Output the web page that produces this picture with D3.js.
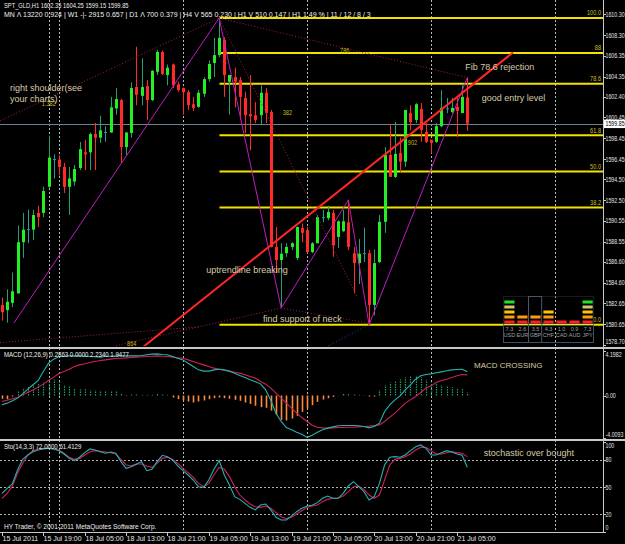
<!DOCTYPE html>
<html>
<head>
<meta charset="utf-8">
<script src="https://cdn.jsdelivr.net/npm/d3@7/dist/d3.min.js"></script>
<style>
  html, body { margin: 0; padding: 0; background: #000; overflow: hidden; }
  svg { display: block; }
  text { font-family: "Liberation Sans", Arial, sans-serif; }
</style>
</head>
<body>
<svg id="chart" width="625" height="544"></svg>
<script>
// ---- SPT_GLD H1 candles ----
var opens = [
  1582.5,1582.0,1582.7,1583.6,1588.5,1589.75,1589.7,1591.3,1591.3,1593.8,
  1596.45,1596.4,1595.7,1593.8,1594.3,1595.6,1597.1,1597.1,1598.85,1598.5,
  1599.05,1599.0,1601.3,1602.1,1597.6,1598.95,1603.35,1602.5,1603.45,1602.1,
  1604.8,1606.7,1604.5,1605.5,1603.6,1603.25,1602.85,1601.7,1601.45,1602.7,
  1604.1,1605.65,1606.4,1607.85,1603.85,1604.3,1604.0,1602.3,1600.75,1600.65,
  1600.65,1602.8,1600.95,1588.05,1586.8,1587.45,1588.05,1587.0,1589.85,1589.65,
  1587.55,1588.4,1590.9,1590.8,1591.3,1589.0,1589.55,1590.4,1587.45,1586.5,
  1587.45,1587.45,1582.5,1586.6,1590.45,1596.85,1594.75,1597.05,1596.2,1600.85,
  1600.2,1601.25,1599.05,1598.3,1598.1,1599.6,1601.3,1600.95,1601.45,1600.85,
  1602.35];
var highs = [
  1583.2,1584.0,1585.6,1590.1,1591.3,1591.6,1591.6,1592.0,1593.8,1598.7,
  1596.9,1596.8,1596.1,1595.7,1595.9,1598.1,1598.3,1599.0,1599.9,1600.6,
  1599.6,1602.4,1603.25,1602.2,1599.0,1603.8,1607.2,1606.1,1604.0,1604.95,
  1606.9,1606.8,1605.5,1605.6,1603.85,1603.3,1603.05,1602.4,1603.05,1604.3,
  1605.9,1608.05,1609.95,1608.1,1604.5,1605.2,1604.3,1602.9,1604.5,1601.9,
  1603.5,1603.25,1601.15,1589.95,1588.4,1588.4,1588.5,1590.0,1590.3,1589.95,
  1588.5,1591.1,1591.6,1592.0,1591.6,1590.6,1591.6,1592.55,1588.05,1588.8,
  1589.9,1587.75,1587.8,1591.1,1597.6,1599.7,1600.0,1598.5,1601.15,1601.6,
  1601.8,1601.8,1599.9,1598.3,1599.9,1603.05,1602.3,1602.3,1602.3,1603.65,
  1604.25];
var lows = [
  1581.0,1580.8,1582.3,1583.6,1587.0,1588.4,1588.7,1589.95,1590.9,1593.7,
  1594.6,1594.9,1593.2,1591.1,1593.9,1595.4,1595.4,1595.4,1595.4,1598.0,
  1598.1,1598.95,1600.7,1596.1,1596.85,1598.5,1601.6,1601.6,1600.2,1602.0,
  1604.5,1604.5,1603.5,1603.25,1602.9,1600.7,1601.15,1601.05,1601.35,1602.4,
  1603.85,1604.3,1606.2,1602.4,1600.7,1601.4,1600.2,1598.95,1597.3,1599.9,
  1599.7,1599.9,1588.0,1585.55,1582.2,1587.1,1587.75,1586.8,1588.5,1587.45,
  1587.45,1588.4,1590.4,1590.6,1587.1,1587.95,1589.5,1587.75,1583.6,1584.5,
  1586.6,1580.6,1581.5,1586.5,1589.4,1594.75,1594.65,1595.2,1595.7,1599.2,
  1599.9,1598.1,1598.0,1597.0,1598.0,1599.5,1600.85,1600.85,1598.55,1600.85,
  1599.15];
var closes = [
  1581.8,1582.8,1583.8,1588.5,1589.7,1589.75,1591.1,1590.9,1593.4,1596.6,
  1596.45,1595.7,1593.8,1594.6,1595.5,1597.4,1596.9,1598.85,1598.5,1599.2,
  1599.05,1601.4,1602.2,1597.6,1599.0,1603.25,1602.6,1603.35,1602.1,1604.9,
  1606.7,1604.6,1605.2,1603.5,1603.05,1602.85,1601.6,1601.35,1602.8,1604.1,
  1605.55,1606.4,1608.05,1604.5,1604.5,1603.85,1602.4,1600.65,1600.55,1600.2,
  1602.8,1600.85,1588.05,1586.8,1587.4,1588.05,1588.4,1589.95,1589.4,1587.55,
  1588.4,1590.9,1590.9,1591.4,1588.2,1590.5,1590.5,1588.05,1586.5,1587.4,
  1587.45,1582.5,1586.5,1590.45,1596.85,1594.75,1596.95,1596.2,1601.15,1600.0,
  1601.7,1599.25,1598.1,1598.0,1599.6,1601.35,1601.3,1601.35,1601.05,1602.4,
  1599.85];

// ---- MACD (12,26,9) ----
var macdHist = [
  -0.3,-0.35,-0.1,0.38,0.69,0.79,1.0,1.1,1.23,1.48,
  1.48,1.42,1.0,0.85,0.69,0.6,0.6,0.53,0.5,0.47,
  0.38,0.38,0.41,0.16,-0.03,0.1,0.1,0.06,0.06,0.06,
  0.22,0.1,0.06,-0.19,-0.35,-0.47,-0.57,-0.66,-0.57,-0.47,
  -0.35,-0.25,-0.19,-0.25,-0.31,-0.41,-0.5,-0.66,-0.79,-0.97,
  -1.1,-1.16,-1.42,-1.82,-2.3,-2.36,-2.17,-1.92,-1.54,-1.23,
  -0.91,-0.6,-0.38,-0.25,-0.13,0.02,0.16,0.13,0.1,0.06,
  0.03,-0.1,-0.1,0.53,1.0,1.23,1.42,1.54,1.73,1.86,
  1.86,1.73,1.48,1.23,1.16,1.0,0.85,0.79,0.72,0.6,
  0.29];
var macdMain = [
  -0.88,-0.72,-0.50,-0.25,0.16,0.60,1.01,1.42,2.26,3.05,
  3.43,3.68,3.71,3.74,3.74,3.74,3.71,3.68,3.65,3.62,
  3.68,3.71,3.74,3.74,3.74,3.74,3.74,3.77,3.84,3.90,
  3.93,3.87,3.84,3.68,3.52,3.36,3.05,2.74,2.42,2.30,
  2.30,2.42,2.48,2.42,2.30,2.11,1.89,1.70,1.48,1.29,
  1.10,0.53,-0.47,-1.67,-2.45,-3.02,-3.24,-3.46,-3.65,-3.95,
  -3.74,-3.46,-3.24,-3.08,-2.96,-2.86,-2.83,-2.83,-2.83,-2.86,
  -2.92,-3.05,-2.92,-2.61,-1.51,-0.88,-0.41,-0.03,0.53,1.01,
  1.54,1.86,1.98,2.04,2.14,2.23,2.33,2.42,2.45,2.48,
  2.23];
var macdSignal = [
  -0.57,-0.44,-0.31,-0.19,0.06,0.31,0.53,0.79,1.07,1.42,
  1.73,2.08,2.26,2.48,2.74,2.89,2.99,3.11,3.21,3.30,
  3.36,3.43,3.49,3.52,3.55,3.58,3.62,3.65,3.68,3.71,
  3.74,3.71,3.68,3.62,3.55,3.52,3.36,3.21,3.05,2.89,
  2.74,2.58,2.48,2.39,2.30,2.20,2.11,1.95,1.79,1.64,
  1.32,1.07,0.69,0.22,-0.25,-0.72,-1.20,-1.67,-2.08,-2.45,
  -2.80,-2.99,-3.05,-3.08,-3.05,-3.02,-3.02,-2.99,-2.99,-2.96,
  -2.92,-2.89,-2.83,-2.77,-2.45,-2.04,-1.67,-1.20,-0.72,-0.41,
  -0.09,0.28,0.69,0.91,1.23,1.42,1.54,1.70,1.86,1.98,
  1.95];

// ---- Stochastic (14,3,3) ----
var stoK = [
  43.2,48.7,53.5,69,80.7,85.5,89.2,91,92.2,92.9,
  92.2,90.3,86.6,81.8,79.3,83,88.1,92.2,91,89.2,
  87.4,88.8,87.4,78.2,70.8,72.6,75.2,78.2,68.2,69.7,
  78.2,85.2,83.7,80,73.4,68.2,63.4,57.9,50.5,49.8,
  57.9,69.7,79.3,63.4,52.4,39.5,36.5,32.1,27.7,24.8,
  30.3,31.4,24.8,16.7,13.7,13.7,18.2,22.9,26.6,29.2,
  29.9,32.9,37.7,40.2,37.7,37.7,43.2,51.3,56.1,50.5,
  45,35.8,39.5,54.2,74.5,83,83.7,83,85.5,90.3,
  94.7,96.6,92.9,85.5,85.5,88.1,90.3,88.8,86.6,85.2,
  72];
var stoD = [
  37.7,43.2,51.3,65.3,76.3,85.5,90.3,92.2,92.9,92.9,
  92.2,91,87.4,83,80.7,81.5,85.5,89.2,90.3,89.6,
  88.8,88.1,86.6,80.7,74.5,73.7,75.6,75.6,73.4,71.9,
  76.3,81.8,83,80.7,76.3,70.8,66,60.9,54.2,50.5,
  54.2,63.4,71.9,69.7,61.6,50.5,41.3,35.8,31.4,28.4,
  27.7,29.2,26.6,21.8,17.4,15.2,16.7,20.3,24,27.7,
  29.2,30.3,34,36.5,37.7,37.7,40.2,45,50.5,51.3,
  47.6,41.3,37.7,41.3,57.9,74.5,80.7,81.8,83.7,86.6,
  91,94,94,90.3,86.6,86.6,88.1,89.2,88.1,87.4,
  83.7];
var stoLevels = [80, 50, 20];

// ---- axes ----
var priceTicks = [1610.30,1608.30,1606.35,1604.35,1602.40,1600.45,1598.45,1596.45,
  1594.50,1592.50,1590.55,1588.55,1586.60,1584.60,1582.65,1580.65,1578.70];
var macdTicks = [4.1982, 0, -4.0093];
var macdTickText = ['4.1982', '0.00', '-4.0093'];
var stoTicks = [100, 80, 50, 20, 0];
var timeLabels = ['15 Jul 2011','15 Jul 19:00','18 Jul 05:00','18 Jul 13:00','18 Jul 21:00',
  '19 Jul 05:00','19 Jul 13:00','19 Jul 21:00','20 Jul 05:00','20 Jul 13:00','20 Jul 21:00','21 Jul 05:00'];
var gridBars = [9, 11, 35, 59, 83, 107];

// ---- fibonacci retracement ----
var fibRatios = [0, 0.382, 0.5, 0.618, 0.786, 0.886, 1];
var fibLabels = ['0.0','38.2','50.0','61.8','78.6','88','100.0'];

// ---- currency strength meter ----
var currencies = ['USD','EUR','GBP','CHF','CAD','AUD','JPY'];
var strength = [7.3, 2.6, 3.5, 4.3, 1.0, 0.9, 7.3];

// ---- layout ----
var W = 625, H = 544, axisX = 603;
var mainBot = 346, macdTop = 349, macdBot = 438, stoTop = 441, stoBot = 532;

var svg = d3.select('#chart');
svg.append('rect').attr('width', W).attr('height', H).attr('fill', '#000');

var x = d3.scaleLinear().domain([0, 90]).range([2, 467.3]);
var yMain = d3.scaleLinear().domain([1578.57, 1611.48]).range([mainBot, 2]);
var yMacd = d3.scaleLinear().domain([-4.0093, 4.1982]).range([macdBot, 351]);
var ySto = d3.scaleLinear().domain([0, 100]).range([532.4, 441.9]);

function px(i){ return Math.round(x(i)) + 0.5; }

// condensed text (terminal font is narrower than Arial)
function ntext(g, tx, ty, size, txt){
  return g.append('text')
      .attr('transform', 'translate(' + tx + ',' + ty + ') scale(0.8,1)')
      .attr('font-size', size).text(txt);
}

var defs = svg.append('defs');
defs.append('clipPath').attr('id', 'clipMain').append('rect')
    .attr('x', 0).attr('y', 0).attr('width', axisX).attr('height', mainBot);
defs.append('clipPath').attr('id', 'clipMacd').append('rect')
    .attr('x', 0).attr('y', macdTop).attr('width', axisX).attr('height', macdBot - macdTop + 1);
defs.append('clipPath').attr('id', 'clipSto').append('rect')
    .attr('x', 0).attr('y', stoTop).attr('width', axisX).attr('height', stoBot - stoTop);

// vertical dashed grid through all panels
svg.append('g').selectAll('line').data(gridBars).enter().append('line')
    .attr('x1', px).attr('x2', px).attr('y1', 0).attr('y2', stoBot)
    .attr('stroke', '#b8b8b8').attr('stroke-width', 1).attr('stroke-dasharray', '2,2');

var main = svg.append('g').attr('clip-path', 'url(#clipMain)');

// current price line
main.append('line').attr('x1', 0).attr('x2', axisX)
    .attr('y1', Math.round(yMain(closes[90])) + 0.5).attr('y2', Math.round(yMain(closes[90])) + 0.5)
    .attr('stroke', '#6f8090').attr('stroke-width', 1);

// fibonacci levels
var fibHi = highs[42], fibLo = lows[71];
var fibG = main.append('g');
fibRatios.forEach(function(r, k){
  var yy = yMain(fibLo + r * (fibHi - fibLo));
  fibG.append('line').attr('x1', px(42)).attr('x2', axisX).attr('y1', yy).attr('y2', yy)
      .attr('stroke', '#f2e200').attr('stroke-width', 2);
  ntext(fibG, axisX - 2, yy - 2.5, 7, fibLabels[k]).attr('text-anchor', 'end').attr('fill', '#c8c020');
});

// drawings (bar index, price)
function seg(g, a, b, color, w, dash){
  var l = g.append('line').attr('x1', x(a[0])).attr('y1', yMain(a[1]))
      .attr('x2', x(b[0])).attr('y2', yMain(b[1]))
      .attr('stroke', color).attr('stroke-width', w);
  if (dash) l.attr('stroke-dasharray', dash);
}
var draw = main.append('g');
var dotted = [
  [[-0.39, 1600.1], [42, highs[42]]],
  [[42, highs[42]], [90, highs[90]]],
  [[42, highs[42]], [68.7, 1583.25]],
  [[20.9, 1578.47], [54, lows[54]]],
  [[54, lows[54]], [71, 1580.75]],
  [[-0.39, 1578.9], [38, 1580.4]]
];
dotted.forEach(function(d){ seg(draw, d[0], d[1], '#a0204a', 1, '1,2'); });
seg(draw, [61.5, 1578.2], [71, lows[71]], '#2040a0', 1, '1,2');

var zigzag = [[2.3, 1580.77], [42, highs[42]], [54, lows[54]], [67, highs[67]], [71, lows[71]], [90, highs[90]]];
draw.append('path').datum(zigzag)
    .attr('d', d3.line().x(function(d){ return x(d[0]); }).y(function(d){ return yMain(d[1]); }))
    .attr('fill', 'none').attr('stroke', '#c21cc2').attr('stroke-width', 1);

// candles
var bars = d3.range(opens.length).map(function(i){
  return {i: i, o: opens[i], h: highs[i], l: lows[i], c: closes[i]};
});
var candles = main.append('g');
candles.selectAll('line').data(bars).enter().append('line')
    .attr('x1', function(d){ return px(d.i); }).attr('x2', function(d){ return px(d.i); })
    .attr('y1', function(d){ return yMain(d.h); }).attr('y2', function(d){ return yMain(d.l); })
    .attr('stroke', function(d){ return d.c > d.o ? '#22a070' : (d.c < d.o ? '#ff2b2b' : '#2a9a9a'); })
    .attr('stroke-width', 1);
candles.selectAll('rect').data(bars).enter().append('rect')
    .attr('x', function(d){ return Math.round(x(d.i)) - 1; })
    .attr('width', 3)
    .attr('y', function(d){ return yMain(Math.max(d.o, d.c)); })
    .attr('height', function(d){ return Math.max(1, Math.abs(yMain(d.o) - yMain(d.c))); })
    .attr('fill', function(d){ return d.c > d.o ? '#22f022' : (d.c < d.o ? '#ff2b2b' : '#2a9a9a'); });

// red uptrend line
seg(draw.raise(), [27.27, 1578.47], [98.84, 1606.65], '#ff2626', 2);

// small level labels
var tags = [
  {t: '786', b: 65.4, p: 1606.6}, {t: '382', b: 54.3, p: 1600.67}, {t: '902', b: 78.5, p: 1597.8},
  {t: '1.382', b: 7.7, p: 1601.5}, {t: '864', b: 24.2, p: 1578.6}
];
var tagG = main.append('g').attr('fill', '#c8b818');
tags.forEach(function(d){ ntext(tagG, x(d.b), yMain(d.p), 7, d.t); });

// annotations
var noteColor = '#d6cba8';
var notes = [
  {t: 'right shoulder(see', b: 1.55, p: 1602.97},
  {t: 'your charts)', b: 1.55, p: 1601.91},
  {t: 'uptrendline breaking', b: 39.5, p: 1585.55},
  {t: 'find support of neck', b: 50.5, p: 1580.86},
  {t: 'Fib 78.6 rejection', b: 89.6, p: 1604.98},
  {t: 'good entry level', b: 92.8, p: 1602.01}
];
svg.append('g').selectAll('text').data(notes).enter().append('text')
    .attr('x', function(d){ return x(d.b); }).attr('y', function(d){ return yMain(d.p); })
    .attr('font-size', 9).attr('fill', noteColor).text(function(d){ return d.t; });

// currency strength meter
var mx = d3.scaleBand().domain(currencies).range([503, 594]).paddingInner(0.22).paddingOuter(0.1);
var nBlocks = d3.scaleLinear().domain([0, 7.5]).range([0, 5]);
var blockColors = ['#ff2020', '#ff9a10', '#ffc400', '#c8c878', '#22e622'];
var meter = svg.append('g');
meter.append('rect').attr('x', 503.5).attr('y', 296.5).attr('width', 90).attr('height', 29)
    .attr('fill', 'none').attr('stroke', '#2c3844').attr('stroke-dasharray', '1,1');
meter.append('rect').attr('x', Math.round(mx('GBP')) - 1.5).attr('y', 296.5).attr('width', mx.bandwidth() + 3).attr('height', 46)
    .attr('fill', 'none').attr('stroke', '#4a5868');
meter.append('rect').attr('x', 503.5).attr('y', 325.5).attr('width', 90).attr('height', 17)
    .attr('fill', 'none').attr('stroke', '#3a5064');
currencies.forEach(function(c, k){
  var n = Math.round(nBlocks(strength[k]));
  for (var j = 0; j < n; j++) {
    meter.append('rect').attr('x', mx(c)).attr('y', 320.5 - 5 * j).attr('width', mx.bandwidth()).attr('height', 3)
        .attr('fill', blockColors[j]);
  }
  meter.append('text').attr('x', mx(c) + mx.bandwidth() / 2).attr('y', 330.5).attr('text-anchor', 'middle')
      .attr('font-size', 5.5).attr('fill', '#9aa0a8').text(strength[k].toFixed(1));
  meter.append('text').attr('x', mx(c) + mx.bandwidth() / 2).attr('y', 337).attr('text-anchor', 'middle')
      .attr('font-size', 5.5).attr('fill', '#9aa0a8').text(c);
});

// ---- MACD panel ----
var macdG = svg.append('g').attr('clip-path', 'url(#clipMacd)');
macdG.selectAll('line').data(macdHist).enter().append('line')
    .attr('x1', function(d, i){ return px(i); }).attr('x2', function(d, i){ return px(i); })
    .attr('y1', yMacd(0)).attr('y2', function(d){ return yMacd(d); })
    .attr('stroke', function(d){ return d >= 0 ? '#1f9e62' : '#ff8a3c'; })
    .attr('stroke-width', function(d){ return d >= 0 ? 1.2 : 1.6; })
    .attr('stroke-dasharray', function(d){ return d >= 0 ? '1.5,1' : null; });
var mline = d3.line().x(function(d, i){ return x(i); }).y(function(d){ return yMacd(d); });
macdG.append('path').datum(macdSignal).attr('d', mline).attr('fill', 'none')
    .attr('stroke', '#d0205a').attr('stroke-width', 1.1);
macdG.append('path').datum(macdMain).attr('d', mline).attr('fill', 'none')
    .attr('stroke', '#28b0b0').attr('stroke-width', 1.1);

// ---- Stochastic panel ----
var stoG = svg.append('g').attr('clip-path', 'url(#clipSto)');
stoG.selectAll('line').data(stoLevels).enter().append('line')
    .attr('x1', 0).attr('x2', axisX)
    .attr('y1', function(d){ return Math.round(ySto(d)) + 0.5; }).attr('y2', function(d){ return Math.round(ySto(d)) + 0.5; })
    .attr('stroke', '#b0b0b0').attr('stroke-dasharray', '2,2');
var sline = d3.line().x(function(d, i){ return x(i); }).y(function(d){ return ySto(d); });
stoG.append('path').datum(stoD).attr('d', sline).attr('fill', 'none')
    .attr('stroke', '#d0205a').attr('stroke-width', 1.1);
stoG.append('path').datum(stoK).attr('d', sline).attr('fill', 'none')
    .attr('stroke', '#28b0b0').attr('stroke-width', 1.1);

svg.append('text').attr('x', x(91.3)).attr('y', yMacd(2.59)).attr('font-size', 8)
    .attr('fill', noteColor).text('MACD CROSSING');
svg.append('text').attr('x', x(93.2)).attr('y', ySto(84.4)).attr('font-size', 9)
    .attr('fill', noteColor).text('stochastic over bought');

// ---- frame: separators and axes ----
var frame = svg.append('g').attr('stroke', '#c8c8c8');
[347.5, 348.5, 439.5, 440.5].forEach(function(yy){
  frame.append('line').attr('x1', 0).attr('x2', W).attr('y1', yy).attr('y2', yy);
});
frame.append('line').attr('x1', 0).attr('x2', axisX + 0.5).attr('y1', stoBot + 0.5).attr('y2', stoBot + 0.5);
frame.append('line').attr('x1', axisX + 0.5).attr('x2', axisX + 0.5).attr('y1', 0).attr('y2', stoBot + 0.5);

var axisG = svg.append('g').attr('fill', '#e4e4e4');
function rightLabel(yy, txt, lo, hi){
  var cy = Math.max(lo, Math.min(hi, yy));
  axisG.append('line').attr('x1', axisX).attr('x2', axisX + 3).attr('y1', Math.round(yy) + 0.5).attr('y2', Math.round(yy) + 0.5)
      .attr('stroke', '#c8c8c8');
  ntext(axisG, axisX + 2.5, cy + 2.4, 6.6, txt);
}
priceTicks.forEach(function(p){
  if (Math.abs(yMain(p) - yMain(closes[90])) > 4) rightLabel(yMain(p), p.toFixed(2), 6, 342);
  else rightLabel(yMain(p), p.toFixed(2), 6, yMain(closes[90]) - 5);
});
macdTicks.forEach(function(v, k){ rightLabel(yMacd(v), macdTickText[k], 355, 435); });
stoTicks.forEach(function(v){ rightLabel(ySto(v), String(v), 446, 528); });

// current price tag
var cpY = yMain(closes[90]);
axisG.append('rect').attr('x', axisX + 1).attr('y', cpY - 4).attr('width', W - axisX).attr('height', 8.5).attr('fill', '#fff');
ntext(axisG, axisX + 2.5, cpY + 2.6, 6.6, closes[90].toFixed(2)).attr('fill', '#000');

// time axis
timeLabels.forEach(function(t, k){
  var tx = px(k * 8);
  axisG.append('line').attr('x1', tx).attr('x2', tx).attr('y1', stoBot).attr('y2', stoBot + 4).attr('stroke', '#c8c8c8');
  axisG.append('text').attr('font-size', 7).attr('x', tx).attr('y', 541).text(t);
});

// ---- header texts ----
var hdr = svg.append('g').attr('fill', '#f0f0f0');
ntext(hdr, 4, 8, 7.2, 'SPT_GLD,H1  1602.35 1604.25 1599.15 1599.85');
hdr.append('text').attr('font-size', 7).attr('x', 4).attr('y', 16.5)
   .text('MN \u039B 13220   0.924  |  W1 -|- 2915   0.657  |  D1 \u039B 700   0.379  |  H4 V 565   0.230  |  H1 V 510   0.147  |  H1   1.49 %  |  11 / 12 / 8 / 3');
ntext(hdr, 4, 357, 7.6, 'MACD  (12,26,9) 0.2863 0.0000 2.2340 1.9477');
ntext(hdr, 4, 449, 7.6, 'Sto(14,3,3) 72.0000 61.4129');
hdr.append('text').attr('font-size', 6.5).attr('x', 4).attr('y', 529)
   .text('HY Trader, \u00A9 2001-2011 MetaQuotes Software Corp.');
</script>
</body>
</html>
